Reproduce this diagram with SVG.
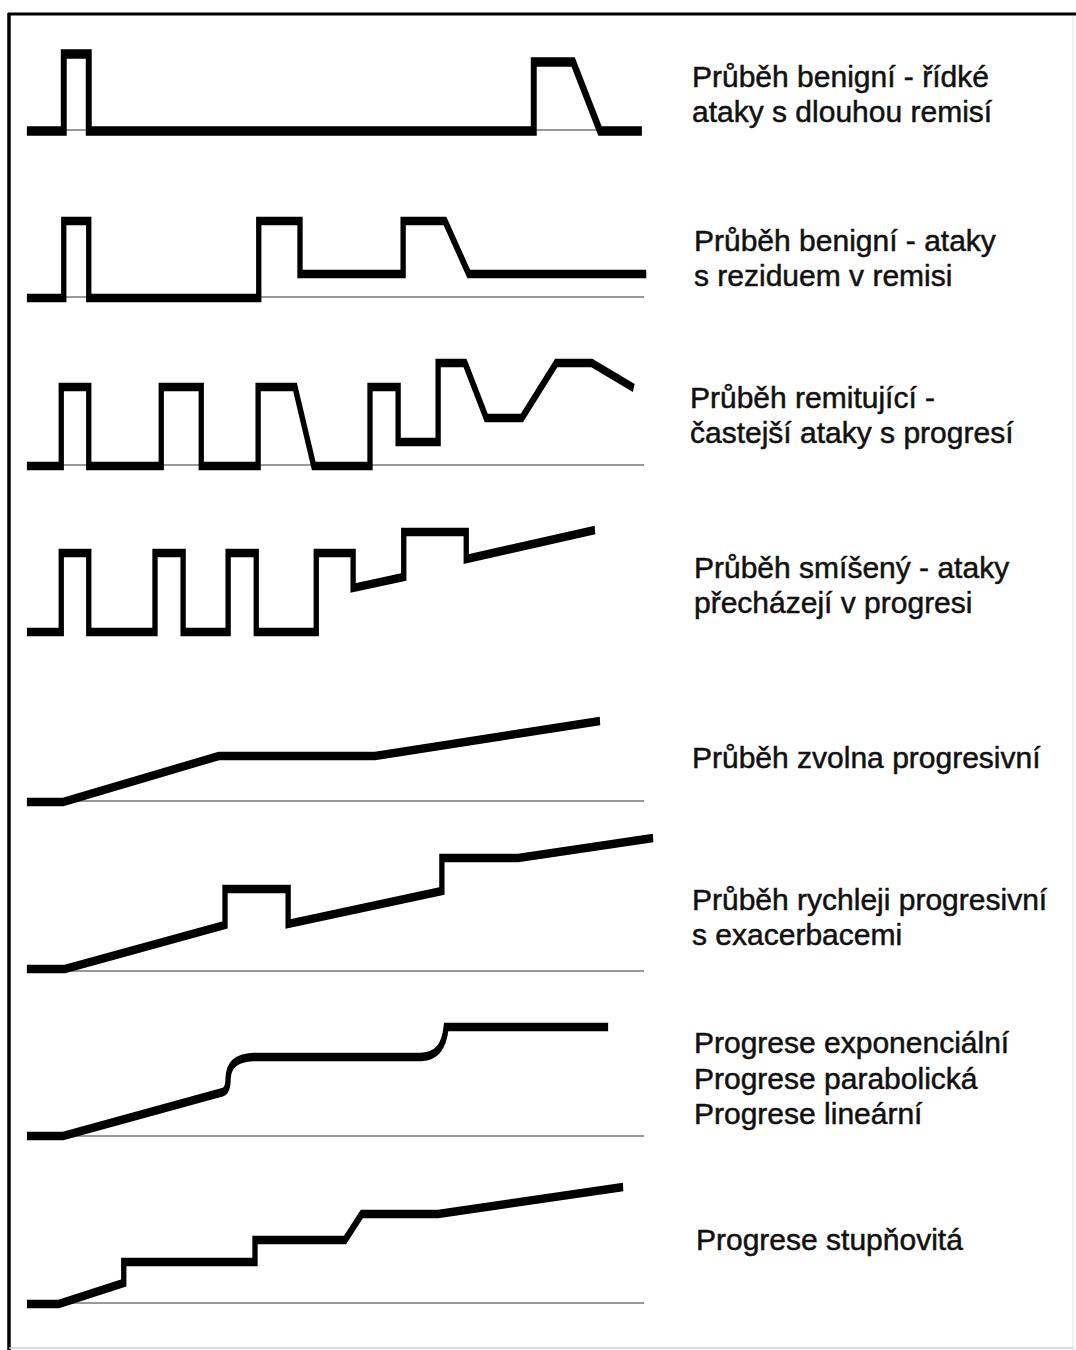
<svg xmlns="http://www.w3.org/2000/svg" width="1076" height="1350" viewBox="0 0 1076 1350">
<style>
.base{stroke:#777;stroke-width:1.5;fill:none}
.tr{stroke:#000;stroke-width:8.5;fill:none;stroke-linejoin:miter;stroke-miterlimit:10;stroke-linecap:butt}
.lbl{font-family:"Liberation Sans",Arial,sans-serif;font-size:30px;fill:#111;stroke:#111;stroke-width:0.5}
</style>
<rect x="0" y="0" width="1076" height="1350" fill="#fff"/>
<g id="frame">
<line x1="8" y1="14" x2="1076" y2="14" stroke="#000" stroke-width="3"/>
<line x1="9" y1="13" x2="9" y2="1350" stroke="#000" stroke-width="3.5"/>
<line x1="1073" y1="16" x2="1073" y2="1350" stroke="#e6e6e6" stroke-width="1"/>
<line x1="9" y1="1348" x2="1073" y2="1348" stroke="#d0d0d0" stroke-width="1.5"/>
</g>
<g id="baselines">
<line class="base" x1="27" y1="130" x2="642" y2="130"/>
<line class="base" x1="27" y1="297" x2="644" y2="297"/>
<line class="base" x1="27" y1="465" x2="644" y2="465"/>
<line class="base" x1="27" y1="801" x2="644" y2="801"/>
<line class="base" x1="27" y1="971" x2="644" y2="971"/>
<line class="base" x1="27" y1="1136" x2="644" y2="1136"/>
<line class="base" x1="27" y1="1303" x2="644" y2="1303"/>
</g>
<g id="traces" transform="scale(0.625,1)">
<path id="trace1" class="tr" style="stroke-width:9.5" d="M43,131 H102 V54 H142 V131 H854 V62 H917 L960,131 H1027"/>
<path id="trace2" class="tr" d="M43,298 H102 V221 H142 V298 H414 V221 H480 V274 H645 V221 H712 L750,274 H1034"/>
<path id="trace3" class="tr" d="M43,466 H98 V387 H142 V466 H258 V387 H322 V466 H413 V387 H472 L502,466 H592 V387 H637 V442 H701 V363 H744 L778,418 H835 L890,363 H947 L1014,388"/>
<path id="trace4" class="tr" d="M43,632 H98 V553 H142 V632 H248 V553 H293 V632 H365 V553 H410 V632 H506 V553 H565 V588 L646,577 V532 H746 V559 L952,530"/>
<path id="trace5" class="tr" d="M43,802 H101 L350,756 H600 L960,721"/>
<path id="trace6" class="tr" d="M43,969 H104 L360,925 V889 H461 V924 L707,891 V858 H829 L1045,838"/>
<path id="trace7" class="tr" d="M43,1136 H101 L357,1092 Q365,1090 365,1078 Q366,1058 405,1057 H674 C698,1056 710,1048 714,1027 H973"/>
<path id="trace8" class="tr" d="M43,1304 H94 L198,1283 V1262 H408 V1240 H552 L579,1214 H701 L997,1187"/>
</g>
<g id="labels">
<g id="label1"><text class="lbl" x="692" y="87">Průběh benigní - řídké</text><text class="lbl" x="692" y="122">ataky s dlouhou remisí</text></g>
<g id="label2"><text class="lbl" x="694" y="251">Průběh benigní - ataky</text><text class="lbl" x="694" y="286">s reziduem v remisi</text></g>
<g id="label3"><text class="lbl" x="690" y="408">Průběh remitující -</text><text class="lbl" x="690" y="443">častejší ataky s progresí</text></g>
<g id="label4"><text class="lbl" x="694" y="578">Průběh smíšený - ataky</text><text class="lbl" x="694" y="613">přecházejí v progresi</text></g>
<g id="label5"><text class="lbl" x="692" y="768">Průběh zvolna progresivní</text></g>
<g id="label6"><text class="lbl" x="692" y="910">Průběh rychleji progresivní</text><text class="lbl" x="692" y="945">s exacerbacemi</text></g>
<g id="label7"><text class="lbl" x="694" y="1053">Progrese exponenciální</text><text class="lbl" x="694" y="1089">Progrese parabolická</text><text class="lbl" x="694" y="1124">Progrese lineární</text></g>
<g id="label8"><text class="lbl" x="696" y="1250">Progrese stupňovitá</text></g>
</g>
</svg>
